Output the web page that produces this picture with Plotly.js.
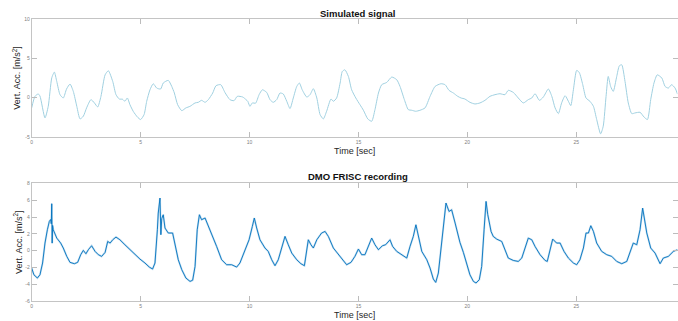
<!DOCTYPE html>
<html>
<head>
<meta charset="utf-8">
<script src="https://cdn.plot.ly/plotly-3.0.1.min.js"></script>
<style>html,body{margin:0;padding:0;background:#fff;}#chart{width:678px;height:321px;}</style>
</head>
<body>
<div id="chart"></div>
<script>
// ---- Data ----
const simTime = [0,0.15,0.3,0.38,0.61,0.76,0.92,1.04,1.15,1.3,1.45,1.6,1.76,1.91,2.07,2.22,2.37,2.52,2.72,2.88,3.03,3.18,3.37,3.52,3.72,3.87,4.02,4.17,4.28,4.39,4.51,4.66,4.85,5.0,5.16,5.28,5.43,5.58,5.74,5.92,6.04,6.27,6.43,6.55,6.70,6.89,7.08,7.27,7.5,7.65,7.80,7.96,8.11,8.31,8.46,8.68,8.87,9.1,9.29,9.44,9.69,9.84,9.92,10.02,10.13,10.28,10.44,10.59,10.79,10.94,11.09,11.25,11.4,11.55,11.71,11.86,12.01,12.17,12.29,12.42,12.63,12.78,12.93,13.09,13.24,13.39,13.54,13.74,13.85,14.0,14.16,14.26,14.38,14.54,14.69,14.88,15.07,15.23,15.43,15.61,15.76,15.92,16.07,16.30,16.53,16.76,16.91,17.11,17.29,17.45,17.63,17.83,18.06,18.29,18.52,18.79,18.98,19.16,19.36,19.56,19.71,19.89,20.12,20.35,20.58,20.81,21.04,21.27,21.5,21.73,21.88,22.11,22.34,22.57,22.80,22.96,23.11,23.31,23.49,23.72,23.88,24.03,24.18,24.33,24.49,24.64,24.75,24.87,25.02,25.14,25.3,25.45,25.63,25.79,25.94,26.12,26.24,26.37,26.47,26.58,26.70,26.86,26.98,27.09,27.24,27.39,27.55,27.70,27.93,28.11,28.27,28.42,28.57,28.72,28.93,29.08,29.23,29.38,29.54,29.65];
const simAcc = [-1.3,0.17,0.47,0.2,-2.57,-1.1,2.5,3.25,2.07,0.38,-0.04,1.1,1.73,0.8,-1.1,-2.7,-2.36,-1.3,-0.25,-0.67,-1.18,0.17,2.9,3.42,2.07,0.38,-0.17,-0.2,-0.46,-0.04,-0.89,-1.73,-2.45,-2.78,-2.15,-0.46,1.0,1.77,1.22,1.1,1.86,2.2,1.43,0.59,-0.89,-1.65,-1.3,-1.1,-0.67,-0.59,-0.34,-0.59,-0.25,0.59,1.52,1.65,0.67,-0.25,-0.38,0.17,0.08,-0.25,-0.46,-1.1,-0.67,-0.7,0.38,1.0,0.67,-0.25,-0.59,-0.25,0.59,0.47,-0.46,-1.39,-0.04,1.43,1.86,1.0,0.08,0.38,1.14,-0.04,-2.15,-2.7,-1.73,-0.17,-0.46,-0.04,1.86,3.33,3.54,2.7,1.0,-0.04,-0.89,-1.6,-2.7,-3.0,-1.52,0.59,1.65,1.94,2.62,2.28,1.43,-0.25,-1.52,-1.6,-1.73,-1.6,-1.3,0.17,1.43,1.77,1.65,0.93,0.59,0.17,-0.04,-0.17,-0.59,-0.8,-0.67,-0.34,0.17,0.38,0.5,0.38,0.93,0.67,-0.04,-0.67,-0.25,-0.04,0.5,-0.34,0.08,1.1,0.17,-1.3,-2.03,-0.67,0.25,-0.46,-1.01,1.0,3.46,3.2,1.65,-0.04,-0.46,-1.1,-2.78,-4.6,-3.63,0.17,2.7,1.43,0.8,2.7,4.05,4.18,2.07,-0.67,-2.03,-1.94,-1.86,-2.45,-2.78,-0.25,1.86,2.9,2.5,1.43,1.22,1.65,1.22,0.45];

const recTime = [0,0.1,0.26,0.38,0.5,0.61,0.72,0.81,0.87,0.9,0.92,0.94,0.96,0.99,1.15,1.33,1.45,1.61,1.76,1.96,2.11,2.25,2.37,2.49,2.6,2.75,2.91,3.06,3.21,3.37,3.49,3.6,3.72,3.87,4.05,4.28,4.51,4.74,4.97,5.2,5.4,5.55,5.66,5.77,5.81,5.89,5.93,5.97,6.04,6.12,6.27,6.47,6.58,6.73,6.89,7.08,7.27,7.39,7.5,7.6,7.7,7.8,7.96,8.06,8.26,8.49,8.72,8.95,9.18,9.41,9.56,9.79,9.98,10.13,10.22,10.33,10.48,10.71,10.86,11.02,11.17,11.32,11.48,11.63,11.78,11.94,12.17,12.36,12.52,12.63,12.7,12.82,12.93,13.09,13.31,13.47,13.62,13.85,14.08,14.31,14.46,14.66,14.84,15.0,15.15,15.3,15.45,15.61,15.76,15.92,16.1,16.25,16.45,16.57,16.76,16.99,17.22,17.37,17.52,17.64,17.75,17.91,18.14,18.29,18.44,18.55,18.67,18.83,18.95,19.02,19.16,19.28,19.44,19.66,19.82,19.97,20.12,20.28,20.4,20.55,20.66,20.77,20.86,20.94,21.01,21.09,21.19,21.35,21.58,21.73,21.88,22.11,22.34,22.5,22.65,22.8,22.96,23.11,23.34,23.57,23.67,23.83,23.92,24.1,24.26,24.44,24.64,24.87,25.02,25.17,25.33,25.45,25.56,25.67,25.79,25.94,26.17,26.4,26.63,26.86,27.09,27.32,27.47,27.62,27.78,27.93,28.05,28.13,28.24,28.42,28.62,28.85,29.0,29.23,29.46,29.65];
const recAcc = [-2.06,-2.85,-3.24,-2.85,-1.46,0.91,2.49,3.48,3.7,3.2,5.58,0.9,3.0,2.49,1.5,0.91,0.32,-0.67,-1.38,-1.54,-1.38,-0.47,0.04,-0.36,0.12,0.59,-0.08,-0.47,-0.67,-0.2,1.1,0.91,1.3,1.62,1.3,0.71,0.12,-0.47,-0.99,-1.46,-1.94,-2.17,-1.46,2.49,4.47,6.25,1.9,3.8,4.27,2.69,2.1,2.1,0.91,-1.07,-2.25,-3.24,-3.64,-3.5,-1.86,2.49,4.27,3.68,3.88,3.28,2.1,0.51,-1.07,-1.66,-1.66,-1.94,-1.46,0.0,1.3,2.88,3.88,2.69,1.3,0.32,-0.08,-1.07,-1.78,-1.07,0.51,1.7,0.71,-0.28,-1.07,-1.54,-1.78,-0.08,1.3,0.71,0.32,1.3,2.1,2.29,1.7,0.32,-0.47,-1.27,-1.66,-1.38,-0.67,0.2,-0.47,-0.47,0.51,1.5,0.71,0.12,0.59,0.71,1.3,0.51,-0.08,-0.47,-0.87,0.51,1.7,3.08,1.7,-0.08,-1.07,-2.06,-3.36,-3.76,-2.65,1.3,4.47,5.66,4.66,4.86,3.28,1.0,-0.2,-1.46,-2.85,-3.64,-3.83,-3.44,-1.86,2.49,5.85,4.27,3.48,2.29,1.7,1.38,1.1,0.12,-0.87,-1.15,-1.27,-0.87,0.32,1.5,1.3,0.51,-0.47,-1.15,-1.27,0.32,1.38,0.91,0.91,-0.08,-0.87,-1.46,-1.66,-1.07,0.32,2.1,2.1,2.97,2.29,0.91,-0.08,-0.47,-0.67,-1.27,-1.54,-1.27,-0.28,0.91,0.71,2.49,5.06,3.88,2.1,0.32,-0.28,-1.54,-0.87,-0.67,-0.08,0.12];

const xTicks = [0,5,10,15,20,25];
const yTicksTop = [-5,0,5,10];
const yTicksBottom = [-6,-4,-2,0,2,4,6,8];
const panelTitles = ['Simulated signal','DMO FRISC recording'];
const xLabel = 'Time [sec]';
const yLabel = 'Vert. Acc. [m/s<sup>2</sup>]';

// ---- Layout helpers (pixel -> paper) ----
const W = 678, H = 321;
const px = x => x / W;
const py = y => 1 - y / H;

const FONT = 'Liberation Sans, Arial, Helvetica, sans-serif';
const TITLE_FONT = {family: FONT, size: 9, color: '#262626'};

function xAxis(anchor) {
  return {
    domain: [px(31.7), px(677.5)],
    range: [0, 29.65],
    anchor: anchor,
    tickvals: xTicks,
    ticktext: xTicks.map(String),
    ticks: 'inside', ticklen: 5, tickwidth: 1, tickcolor: '#bcbcbc',
    showline: true, linecolor: '#c4c4c4', linewidth: 1, mirror: 'ticks',
    showgrid: false, zeroline: false,
    tickfont: {family: FONT, size: 5, color: '#808080'},
    title: {text: xLabel, font: TITLE_FONT, standoff: 3}
  };
}
function yAxis(anchor, dom, rng, ticks) {
  return {
    domain: dom,
    range: rng,
    anchor: anchor,
    tickvals: ticks,
    ticktext: ticks.map(String),
    ticks: 'inside', ticklen: 5, tickwidth: 1, tickcolor: '#bcbcbc',
    showline: true, linecolor: '#c4c4c4', linewidth: 1, mirror: 'ticks',
    showgrid: false, zeroline: false,
    tickfont: {family: FONT, size: 5, color: '#808080'},
    title: {text: yLabel, font: TITLE_FONT, standoff: 1}
  };
}

const traces = [
  {x: simTime, y: simAcc, xaxis: 'x', yaxis: 'y', type: 'scatter', mode: 'lines',
   line: {color: 'rgb(160,208,224)', width: 1, shape: 'spline', smoothing: 0.6}, hoverinfo: 'skip'},
  {x: recTime, y: recAcc, xaxis: 'x2', yaxis: 'y2', type: 'scatter', mode: 'lines',
   line: {color: 'rgba(0,114,189,0.22)', width: 2}, hoverinfo: 'skip'},
  {x: recTime, y: recAcc, xaxis: 'x2', yaxis: 'y2', type: 'scatter', mode: 'lines',
   line: {color: 'rgb(0,114,189)', width: 0.9}, hoverinfo: 'skip'}
];

const layout = {
  width: W, height: H,
  margin: {l: 0, r: 0, t: 0, b: 0},
  paper_bgcolor: '#fff', plot_bgcolor: '#fff',
  showlegend: false,
  font: {family: FONT},
  xaxis: xAxis('y'),
  yaxis: yAxis('x', [py(137), py(19)], [-5, 10], yTicksTop),
  xaxis2: xAxis('y2'),
  yaxis2: yAxis('x2', [py(301.3), py(183.3)], [-6, 8], yTicksBottom),
  annotations: [
    {text: '<b>' + panelTitles[0] + '</b>', x: px(358), y: py(13), xref: 'paper', yref: 'paper',
     showarrow: false, xanchor: 'center', yanchor: 'middle', font: {family: FONT, size: 9.5, color: '#111'}},
    {text: '<b>' + panelTitles[1] + '</b>', x: px(358), y: py(177), xref: 'paper', yref: 'paper',
     showarrow: false, xanchor: 'center', yanchor: 'middle', font: {family: FONT, size: 9.5, color: '#111'}}
  ]
};

Plotly.newPlot('chart', traces, layout, {displayModeBar: false, staticPlot: true});
</script>
</body>
</html>
